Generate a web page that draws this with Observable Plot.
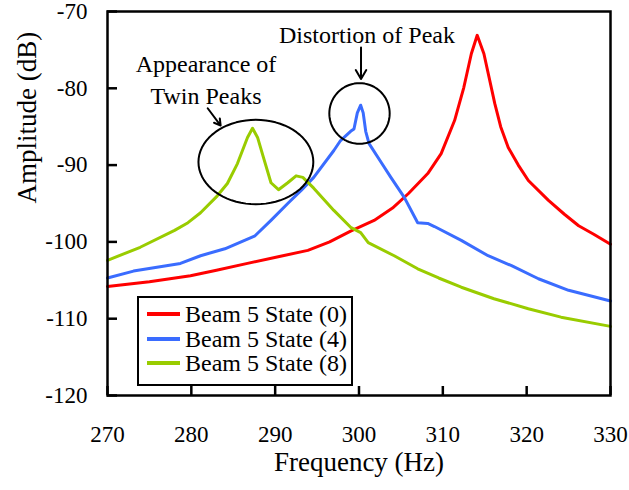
<!DOCTYPE html>
<html><head><meta charset="utf-8">
<script src="https://cdn.jsdelivr.net/npm/d3@7"></script>
<script src="https://cdn.jsdelivr.net/npm/@observablehq/plot@0.6"></script>
<style>
body{margin:0;background:#fff;}
#wrap{position:relative;width:629px;height:490px;font-family:'Liberation Serif',serif;}
#wrap svg text{font-family:'Liberation Serif',serif !important;}
#legend{position:absolute;left:137px;top:296px;width:212px;height:82px;border:2px solid #000;background:#fff;padding-top:4px;box-sizing:content-box;font-family:'Liberation Serif',serif;}
.item{height:24.5px;display:flex;align-items:center;font-size:24px;line-height:24px;color:#000;white-space:nowrap;font-family:'Liberation Serif',serif;}
.sw{width:33px;height:4px;margin-left:8px;margin-right:5px;}
</style></head>
<body><div id="wrap"></div>
<script>
// Series: Beam 5 State (0)
const freqState0 = [270,275,279.9,283,286.7,290.5,293.9,296.5,299,301.8,304,305.9,308.2,309.8,311.4,312.5,313.4,314.1,314.9,315.5,316.2,316.9,317.8,319,320.2,322.6,324.5,326.2,328,330];
const ampState0  = [-105.8,-105.2,-104.4,-103.7,-102.8,-101.9,-101.1,-100.0,-98.6,-97.2,-95.6,-93.7,-91.1,-88.5,-84.2,-79.9,-75.5,-73.1,-75.5,-78.5,-82.0,-85.0,-87.7,-90.0,-92.0,-94.6,-96.4,-97.9,-99.0,-100.3];
// Series: Beam 5 State (4)
const freqState4 = [270,273.1,278.7,281.1,284,287.6,289.5,291.5,293.1,294.6,297,297.8,299,299.4,299.8,300.2,300.5,300.8,301.2,302.5,303.8,305.4,307,308.2,309,312.2,315.4,318.2,321.4,325,330];
const ampState4  = [-104.7,-103.8,-102.8,-101.8,-100.9,-99.2,-97.2,-95.0,-93.3,-91.6,-88.1,-86.8,-85.6,-85.3,-83.2,-82.2,-83.2,-85.6,-87.2,-89.4,-91.6,-94.2,-97.5,-97.6,-98.0,-99.8,-101.8,-103.1,-104.8,-106.3,-107.7];
// Series: Beam 5 State (8)
const freqState8 = [270,273.9,278,279.6,281.1,283.1,284.3,285.5,286.7,287.3,287.9,288.6,289.5,290.4,291.5,292.5,293.3,294.6,297,299,300.2,301.1,304.2,307,309.5,312.2,316.1,320.2,324.1,330];
const ampState8  = [-102.4,-100.7,-98.5,-97.5,-96.2,-94.0,-92.4,-89.8,-86.4,-85.2,-86.4,-89.0,-92.3,-93.2,-92.3,-91.4,-91.6,-93.0,-95.9,-98.1,-98.8,-100.1,-101.8,-103.5,-104.7,-105.9,-107.4,-108.7,-109.8,-111.0];

const seriesNames = ["Beam 5 State (0)", "Beam 5 State (4)", "Beam 5 State (8)"];
const seriesColors = ["#ff0000", "#3a6cff", "#99cc00"];
const xTicks = [270,280,290,300,310,320,330];
const yTicks = [-120,-110,-100,-90,-80,-70];
const xTitle = "Frequency (Hz)";
const yTitle = "Amplitude (dB)";

// Annotations (data coordinates)
const annoTexts = [
  {f: 281.75, a: -78.65, text: "Appearance of\nTwin Peaks"},
  {f: 300.95, a: -72.86, text: "Distortion of Peak"}
];
const annoArrows = [
  {f1: 281.95, a1: -82.6, f2: 283.5, a2: -84.85},
  {f1: 300.24, a1: -74.7, f2: 300.24, a2: -78.8}
];
// ellipses: center and radii in data units
const annoEllipses = [
  {f: 287.7, a: -89.6, rf: 6.85, ra: 5.5},
  {f: 300.06, a: -83.28, rf: 3.6, ra: 3.95}
];

const FONT = "'Liberation Serif', serif";

const rows = [];
[[freqState0, ampState0], [freqState4, ampState4], [freqState8, ampState8]].forEach(([fs, as], i) => {
  fs.forEach((f, j) => rows.push({series: seriesNames[i], f, a: as[j]}));
});

const ellipsePts = [];
annoEllipses.forEach((e, k) => {
  d3.range(0, 73).forEach(i => {
    const t = i / 72 * 2 * Math.PI;
    ellipsePts.push({k, f: e.f + e.rf * Math.cos(t), a: e.a + e.ra * Math.sin(t)});
  });
});

const chart = Plot.plot({
  width: 629,
  height: 490,
  marginLeft: 107,
  marginRight: 19,
  marginTop: 11,
  marginBottom: 95,
  style: "font-family: 'Liberation Serif', serif; background: #fff; color: #000;",
  x: {domain: [270, 330]},
  y: {domain: [-120, -70]},
  color: {domain: seriesNames, range: seriesColors},
  marks: [
    Plot.line(rows, {x: "f", y: "a", z: "series", stroke: "series", strokeWidth: 3, curve: "linear"}),
    Plot.line(ellipsePts, {x: "f", y: "a", z: "k", stroke: "#000", strokeWidth: 2, curve: "linear"}),
    Plot.arrow(annoArrows, {x1: "f1", y1: "a1", x2: "f2", y2: "a2", stroke: "#000", strokeWidth: 2, headLength: 9}),
    Plot.text(annoTexts, {x: "f", y: "a", text: "text", fontSize: 24, fontFamily: FONT, lineHeight: 1.3, fill: "#000"}),
    Plot.axisX({ticks: xTicks, tickSize: -9, tickPadding: 39, fontSize: 23, fontFamily: FONT, strokeWidth: 2.5, label: null, tickFormat: d => d}),
    Plot.axisY({ticks: yTicks, tickSize: -10, tickPadding: 30, fontSize: 23, fontFamily: FONT, strokeWidth: 2.5, label: null, tickFormat: d => d}),
    Plot.text([xTitle], {frameAnchor: "bottom", dy: 75, fontSize: 27, fontFamily: FONT, fill: "#000"}),
    Plot.text([yTitle], {frameAnchor: "left", dx: -80, rotate: -90, fontSize: 27, fontFamily: FONT, fill: "#000"}),
    Plot.frame({stroke: "#000", strokeWidth: 2.5})
  ]
});

const wrap = document.getElementById("wrap");
wrap.appendChild(chart);
const legend = document.createElement("div");
legend.id = "legend";
seriesNames.forEach((name, i) => {
  const item = document.createElement("div");
  item.className = "item";
  const sw = document.createElement("span");
  sw.className = "sw";
  sw.style.background = seriesColors[i];
  item.appendChild(sw);
  item.appendChild(document.createTextNode(name));
  legend.appendChild(item);
});
wrap.appendChild(legend);
</script>
</body></html>
